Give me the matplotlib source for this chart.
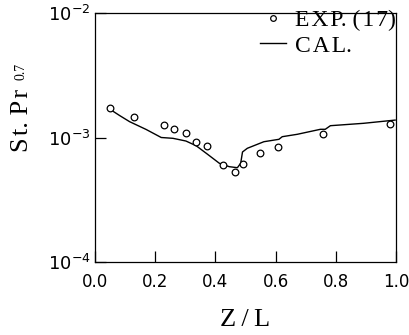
import matplotlib
matplotlib.use("Agg")
import matplotlib.pyplot as plt
from matplotlib.ticker import FixedLocator, NullLocator

# Experimental data (EXP. (17))
exp_z = [0.049, 0.128, 0.229, 0.264, 0.302, 0.337, 0.373, 0.424, 0.465, 0.491,
         0.549, 0.607, 0.759, 0.981]
exp_st = [1.72e-3, 1.45e-3, 1.25e-3, 1.18e-3, 1.08e-3, 0.92e-3, 0.85e-3, 0.60e-3,
          0.526e-3, 0.612e-3, 0.747e-3, 0.839e-3, 1.067e-3, 1.29e-3]

# Calculation (CAL.)
cal_z = [0.049, 0.082, 0.115, 0.170, 0.220, 0.259, 0.302, 0.336, 0.374, 0.413,
         0.446, 0.473, 0.484, 0.490, 0.506, 0.561, 0.611, 0.622, 0.672, 0.749,
         0.765, 0.782, 0.892, 0.997]
cal_st = [1.69e-3, 1.50e-3, 1.34e-3, 1.16e-3, 1.00e-3, 0.985e-3, 0.937e-3, 0.859e-3,
          0.733e-3, 0.621e-3, 0.583e-3, 0.572e-3, 0.621e-3, 0.765e-3, 0.819e-3,
          0.925e-3, 0.967e-3, 1.015e-3, 1.061e-3, 1.164e-3, 1.164e-3, 1.244e-3,
          1.30e-3, 1.38e-3]

xticks = [0.0, 0.2, 0.4, 0.6, 0.8, 1.0]
xticklabels = ["0.0", "0.2", "0.4", "0.6", "0.8", "1.0"]
yticks = [1e-4, 1e-3, 1e-2]
yticklabels = [r"$10^{-4}$", r"$10^{-3}$", r"$10^{-2}$"]

TS = "\u2009"  # thin space
HS = "\u200a"  # hair space, for the wide letter spacing of the original
exp_label = f"E{HS}X{HS}P. ({HS}1{HS}7)"
cal_label = f"C{HS}A{HS}L."

plt.rcParams["mathtext.fontset"] = "dejavusans"

fig = plt.figure(figsize=(4.1, 3.35), dpi=100)
ax = fig.add_axes([0.2317, 0.2179, 0.7342, 0.7433])

ax.plot(exp_z, exp_st, linestyle="none", marker="o", markersize=4.8,
        markerfacecolor="white", markeredgecolor="black", markeredgewidth=0.9,
        label=exp_label, zorder=3)
ax.plot(cal_z, cal_st, color="black", linewidth=1.0, label=cal_label, zorder=2)

ax.set_yscale("log")
ax.set_xlim(0.0, 1.0)
ax.set_ylim(1e-4, 1e-2)
ax.xaxis.set_major_locator(FixedLocator(xticks))
ax.set_xticklabels(xticklabels, fontsize=12, family="DejaVu Sans")
ax.yaxis.set_major_locator(FixedLocator(yticks))
ax.yaxis.set_minor_locator(NullLocator())
ax.set_yticklabels(yticklabels, fontsize=13)
ax.tick_params(axis="both", direction="in", length=8, width=0.9,
               top=False, right=False)
ax.tick_params(axis="x", pad=8)
ax.tick_params(axis="y", pad=3)
for s in ax.spines.values():
    s.set_linewidth(0.9)

ax.set_xlabel(f"Z{TS}/{TS}L", fontsize=19, family="Liberation Serif")
ax.xaxis.set_label_coords(0.5, -0.19)
ax.set_ylabel(f"S{HS}t. P{HS}r", fontsize=19, family="Liberation Serif")
ax.yaxis.set_label_coords(-0.205, 0.57)
ax.text(-0.247, 0.765, "0.7", transform=ax.transAxes, rotation=90,
        fontsize=10, family="Liberation Serif", ha="center", va="center")

leg = ax.legend(loc="upper right", bbox_to_anchor=(1.0, 1.015), frameon=False,
                prop={"family": "Liberation Serif", "size": 17},
                handlelength=1.1, handletextpad=0.4, labelspacing=0.18,
                borderaxespad=0.0, borderpad=0.0, markerscale=0.85)

fig.savefig("out.png", dpi=100)
